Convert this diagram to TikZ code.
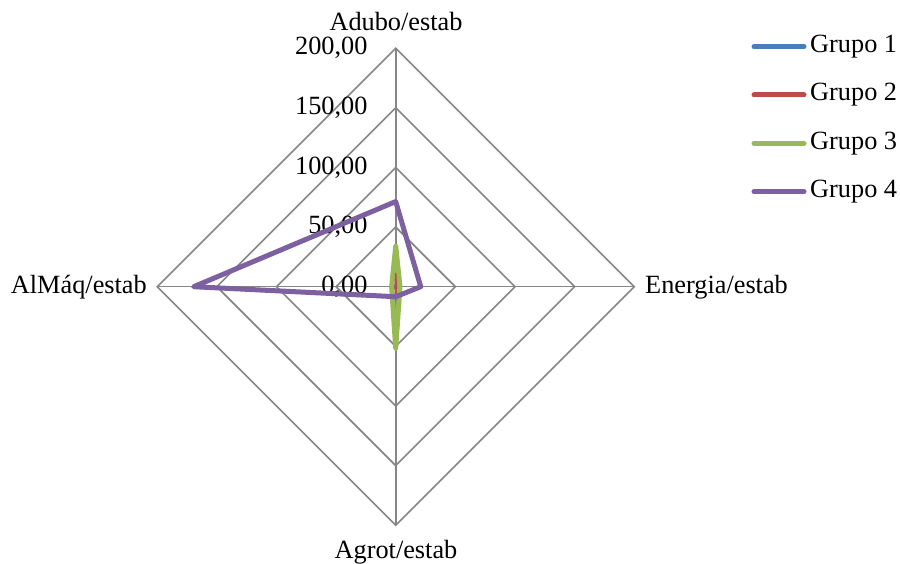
\documentclass[tikz,border=0pt]{standalone}
\usepackage{fontspec}
\setmainfont{Liberation Serif}
\definecolor{gridgray}{HTML}{868686}
\definecolor{gblue}{HTML}{4A7EBB}
\definecolor{gred}{HTML}{BE4B48}
\definecolor{ggreen}{HTML}{98B954}
\definecolor{gpurple}{HTML}{7D60A0}
\begin{document}
\begin{tikzpicture}[x=1pt,y=-1pt,
  lbl/.style={inner sep=0pt,font=\fontsize{26.3}{31}\selectfont},
  gridline/.style={draw=gridgray,line width=1.6pt},
  series/.style={line width=5pt,line join=round,line cap=round},
  legline/.style={line width=5pt,line cap=round}]
\useasboundingbox (0,0) rectangle (900,564);
\fill[white] (0,0) rectangle (900,564);
\begin{scope}[shift={(395.7,286.7)},x=1.1925pt,y=1.1925pt]
  \coordinate (C) at (0,0);
  \foreach \r in {50,100,150,200}{
    \draw[gridline] (0,\r) -- (\r,0) -- (0,-\r) -- (-\r,0) -- cycle;
  }
  \coordinate (T) at (0,200);
  \coordinate (Rt) at (200,0);
  \coordinate (B) at (0,-200);
  \coordinate (L) at (-200,0);
  \draw[gridline] (C) -- (T);
  \draw[gridline] (C) -- (Rt);
  \draw[gridline] (C) -- (B);
  \draw[gridline] (C) -- (L);
  \node[lbl,anchor=east] (t0) at (-23.5,0) {0,00};
  \node[lbl,anchor=east] (t50) at (-23.5,50) {50,00};
  \node[lbl,anchor=east] (t100) at (-23.5,100) {100,00};
  \node[lbl,anchor=east] (t150) at (-23.5,150) {150,00};
  \node[lbl,anchor=east] (t200) at (-23.5,200) {200,00};
  \draw[series,gblue] (0,1) -- (0.3,0) -- (0,-1) -- (-0.3,0) -- cycle;
  \draw[series,ggreen] (0,34) -- (3.6,0) -- (0,-51.5) -- (-3.4,0) -- cycle;
  \draw[series,gred,line width=1.5pt] (0,11) -- (0.4,0) -- (0,-11) -- (-0.4,0) -- cycle;
  \draw[series,gpurple] (0,71.4) -- (21,0) -- (0,-8.4) -- (-169.4,0) -- cycle;
\end{scope}
\node[lbl] (adubo) at (396,22) {Adubo/estab};
\node[lbl,anchor=west] (energia) at (645,287) {Energia/estab};
\node[lbl,anchor=east] (almaq) at (147,287) {AlMáq/estab};
\node[lbl] (agrot) at (396,552) {Agrot/estab};
\node[lbl,anchor=west] (g1) at (810,46.7) {Grupo 1};
\node[lbl,anchor=west] (g2) at (810,95) {Grupo 2};
\node[lbl,anchor=west] (g3) at (810,143.3) {Grupo 3};
\node[lbl,anchor=west] (g4) at (810,191.7) {Grupo 4};
\coordinate (l1) at (754,46.7);
\coordinate (l2) at (754,95);
\coordinate (l3) at (754,143.3);
\coordinate (l4) at (754,191.7);
\draw[legline,gblue] (l1) -- ([xshift=-6pt]g1.west);
\draw[legline,gred] (l2) -- ([xshift=-6pt]g2.west);
\draw[legline,ggreen] (l3) -- ([xshift=-6pt]g3.west);
\draw[legline,gpurple] (l4) -- ([xshift=-6pt]g4.west);
\end{tikzpicture}
\end{document}
